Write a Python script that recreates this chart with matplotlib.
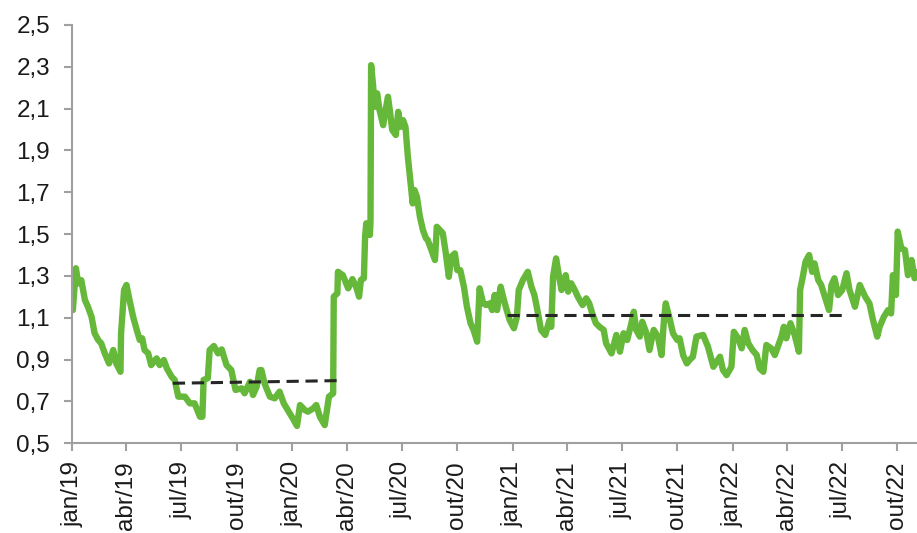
import numpy as np
import pandas as pd
import matplotlib
matplotlib.use("Agg")
import matplotlib.pyplot as plt

plt.rcParams['font.family'] = ['Liberation Sans', 'DejaVu Sans']

# series
dates = [
    "2019-01-01", "2019-01-02", "2019-01-07", "2019-01-11", "2019-01-16", "2019-01-22", "2019-01-27",
    "2019-02-02", "2019-02-07", "2019-02-13", "2019-02-18", "2019-02-24", "2019-03-03", "2019-03-10",
    "2019-03-15", "2019-03-22", "2019-03-23", "2019-03-28", "2019-04-01", "2019-04-06", "2019-04-12",
    "2019-04-18", "2019-04-23", "2019-04-27", "2019-05-01", "2019-05-07", "2019-05-12", "2019-05-21",
    "2019-05-26", "2019-06-02", "2019-06-07", "2019-06-15", "2019-06-20", "2019-06-26", "2019-07-07",
    "2019-07-15", "2019-07-23", "2019-08-01", "2019-08-05", "2019-08-07", "2019-08-14", "2019-08-17",
    "2019-08-24", "2019-08-31", "2019-09-06", "2019-09-14", "2019-09-22", "2019-09-29", "2019-10-09",
    "2019-10-14", "2019-10-23", "2019-10-28", "2019-11-03", "2019-11-08", "2019-11-11", "2019-11-16",
    "2019-11-25", "2019-12-03", "2019-12-11", "2019-12-18", "2019-12-28", "2020-01-02", "2020-01-09",
    "2020-01-14", "2020-01-22", "2020-01-27", "2020-02-05", "2020-02-10", "2020-02-16", "2020-02-24",
    "2020-03-02", "2020-03-09", "2020-03-10", "2020-03-16", "2020-03-17", "2020-03-25", "2020-04-03",
    "2020-04-10", "2020-04-16", "2020-04-21", "2020-04-24", "2020-04-29", "2020-05-01", "2020-05-03",
    "2020-05-09", "2020-05-10", "2020-05-11", "2020-05-14", "2020-05-17", "2020-05-21", "2020-05-25",
    "2020-05-31", "2020-06-03", "2020-06-08", "2020-06-11", "2020-06-15", "2020-06-21", "2020-06-25",
    "2020-06-29", "2020-07-03", "2020-07-07", "2020-07-11", "2020-07-15", "2020-07-19", "2020-07-22",
    "2020-07-26", "2020-07-31", "2020-08-05", "2020-08-10", "2020-08-13", "2020-08-19", "2020-08-25",
    "2020-08-28", "2020-09-02", "2020-09-07", "2020-09-12", "2020-09-17", "2020-09-21", "2020-09-27",
    "2020-10-01", "2020-10-06", "2020-10-12", "2020-10-17", "2020-10-23", "2020-10-28", "2020-11-03",
    "2020-11-07", "2020-11-13", "2020-11-18", "2020-11-24", "2020-11-28", "2020-12-02", "2020-12-06",
    "2020-12-12", "2020-12-16", "2020-12-22", "2020-12-27", "2021-01-03", "2021-01-08", "2021-01-11",
    "2021-01-18", "2021-01-26", "2021-02-01", "2021-02-06", "2021-02-12", "2021-02-17", "2021-02-24",
    "2021-03-03", "2021-03-06", "2021-03-09", "2021-03-14", "2021-03-19", "2021-03-23", "2021-03-30",
    "2021-04-03", "2021-04-08", "2021-04-14", "2021-04-19", "2021-04-27", "2021-05-03", "2021-05-08",
    "2021-05-13", "2021-05-19", "2021-05-25", "2021-06-01", "2021-06-05", "2021-06-14", "2021-06-22",
    "2021-06-28", "2021-07-04", "2021-07-10", "2021-07-17", "2021-07-21", "2021-07-25", "2021-07-31",
    "2021-08-04", "2021-08-11", "2021-08-16", "2021-08-23", "2021-08-30", "2021-09-05", "2021-09-09",
    "2021-09-12", "2021-09-19", "2021-09-24", "2021-10-01", "2021-10-05", "2021-10-11", "2021-10-17",
    "2021-10-22", "2021-10-27", "2021-11-02", "2021-11-13", "2021-11-21", "2021-11-30", "2021-12-11",
    "2021-12-16", "2021-12-22", "2021-12-30", "2022-01-03", "2022-01-10", "2022-01-16", "2022-01-21",
    "2022-01-27", "2022-02-03", "2022-02-10", "2022-02-15", "2022-02-21", "2022-02-26", "2022-03-06",
    "2022-03-12", "2022-03-17", "2022-03-23", "2022-03-27", "2022-03-31", "2022-04-07", "2022-04-14",
    "2022-04-21", "2022-04-23", "2022-04-27", "2022-05-02", "2022-05-08", "2022-05-13", "2022-05-17",
    "2022-05-23", "2022-05-28", "2022-06-03", "2022-06-10", "2022-06-14", "2022-06-19", "2022-06-25",
    "2022-07-02", "2022-07-09", "2022-07-14", "2022-07-23", "2022-07-31", "2022-08-09", "2022-08-16",
    "2022-08-22", "2022-08-29", "2022-09-02", "2022-09-09", "2022-09-16", "2022-09-21", "2022-09-24",
    "2022-09-29", "2022-10-02", "2022-10-08", "2022-10-14", "2022-10-19", "2022-10-25", "2022-10-30",
    "2022-11-04",
]
values = [
    1.14, 1.137, 1.337, 1.265, 1.28, 1.185, 1.153,
    1.105, 1.027, 0.994, 0.978, 0.930, 0.882, 0.946,
    0.882, 0.842, 1.026, 1.233, 1.257, 1.185, 1.105,
    1.042, 0.994, 1.002, 0.946, 0.930, 0.874, 0.906,
    0.874, 0.898, 0.858, 0.818, 0.803, 0.723, 0.723,
    0.691, 0.691, 0.627, 0.627, 0.803, 0.811, 0.946,
    0.965, 0.930, 0.949, 0.874, 0.850, 0.755, 0.763,
    0.739, 0.794, 0.731, 0.771, 0.850, 0.850, 0.787,
    0.723, 0.715, 0.747, 0.691, 0.643, 0.619, 0.583,
    0.683, 0.659, 0.651, 0.667, 0.683, 0.627, 0.587,
    0.723, 0.739, 1.201, 1.217, 1.320, 1.304, 1.241,
    1.285, 1.249, 1.201, 1.281, 1.289, 1.488, 1.552,
    1.496, 1.567, 2.308, 2.221, 2.109, 2.173, 2.093,
    2.021, 2.077, 2.157, 2.093, 1.998, 1.974, 2.085,
    2.013, 2.045, 2.013, 1.870, 1.759, 1.647, 1.711,
    1.679, 1.583, 1.520, 1.480, 1.472, 1.424, 1.376,
    1.535, 1.520, 1.504, 1.408, 1.296, 1.392, 1.408,
    1.328, 1.328, 1.249, 1.153, 1.074, 1.042, 0.986,
    1.241, 1.169, 1.161, 1.169, 1.137, 1.209, 1.137,
    1.249, 1.201, 1.137, 1.089, 1.050, 1.105, 1.233,
    1.281, 1.320, 1.249, 1.209, 1.121, 1.042, 1.018,
    1.089, 1.057, 1.297, 1.384, 1.297, 1.233, 1.304,
    1.225, 1.265, 1.233, 1.201, 1.161, 1.193, 1.169,
    1.121, 1.074, 1.057, 1.042, 0.978, 0.930, 1.018,
    0.938, 1.026, 0.994, 1.074, 1.129, 1.042, 1.010,
    1.081, 1.026, 0.946, 1.042, 1.010, 0.922, 1.089,
    1.169, 1.089, 1.026, 0.994, 1.002, 0.920, 0.882,
    0.900, 0.914, 1.010, 1.018, 0.962, 0.866, 0.914,
    0.850, 0.826, 0.866, 1.033, 1.002, 0.954, 1.042,
    0.978, 0.946, 0.922, 0.858, 0.842, 0.970, 0.954,
    0.922, 0.962, 1.010, 1.057, 1.002, 1.074, 1.018,
    0.938, 1.233, 1.289, 1.368, 1.400, 1.320, 1.360,
    1.281, 1.257, 1.201, 1.137, 1.257, 1.289, 1.209,
    1.233, 1.313, 1.233, 1.153, 1.257, 1.201, 1.169,
    1.089, 1.010, 1.057, 1.105, 1.137, 1.121, 1.304,
    1.209, 1.512, 1.432, 1.424, 1.304, 1.376, 1.289,
    1.313,
]

# dashed averages
trend1_dates = ["2019-06-17", "2020-03-24"]
trend1_values = [0.787, 0.800]
trend2_dates = ["2020-12-22", "2022-07-01"]
trend2_values = [1.115, 1.115]

tick_dates = pd.date_range("2019-01-01", "2022-10-01", freq="QS")
tick_labels = ["jan/19", "abr/19", "jul/19", "out/19", "jan/20", "abr/20", "jul/20", "out/20",
               "jan/21", "abr/21", "jul/21", "out/21", "jan/22", "abr/22", "jul/22", "out/22"]
y_ticks = [0.5, 0.7, 0.9, 1.1, 1.3, 1.5, 1.7, 1.9, 2.1, 2.3, 2.5]

fig = plt.figure(figsize=(9.17, 5.33), dpi=100)
ax = fig.add_axes([0.0788, 0.1683, 0.9212, 0.7848])

ax.plot(pd.to_datetime(dates), values, color="#66b83a", linewidth=4.6, solid_joinstyle="round")
ax.plot(pd.to_datetime(trend1_dates), trend1_values, color="#262626", linewidth=2.2,
        linestyle=(0, (4, 2.2)))
ax.plot(pd.to_datetime(trend2_dates), trend2_values, color="#262626", linewidth=2.2,
        linestyle=(0, (4, 2.2)))

ax.set_xlim(pd.Timestamp("2019-01-01"), pd.Timestamp("2022-11-03"))
ax.set_ylim(0.5, 2.5)
ax.set_xticks(tick_dates)
ax.set_xticklabels(tick_labels, rotation=90, fontsize=17.5, color="#1a1a1a")
ax.set_yticks(y_ticks)
ax.set_yticklabels([f"{v:.1f}".replace(".", ",") for v in y_ticks], fontsize=17.5, color="#1a1a1a")

for side in ["top", "right"]:
    ax.spines[side].set_visible(False)
for side in ["left", "bottom"]:
    ax.spines[side].set_color("#a0a0a0")
    ax.spines[side].set_linewidth(1.5)
ax.tick_params(axis="both", direction="out", length=6, width=1.5, color="#a0a0a0")
ax.tick_params(axis="y", pad=10)
ax.tick_params(axis="x", pad=7)

fig.savefig("out.png", dpi=100)
